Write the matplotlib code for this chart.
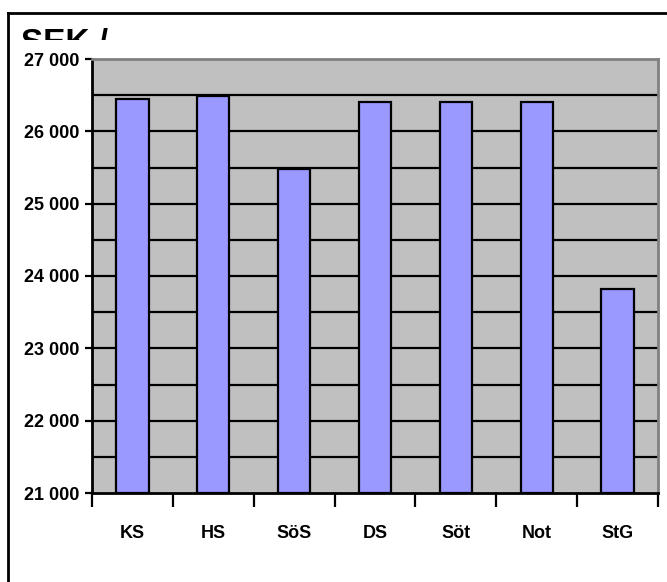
import matplotlib
matplotlib.use("Agg")
import matplotlib.pyplot as plt
from matplotlib.lines import Line2D
from matplotlib.transforms import Bbox, TransformedBbox
import numpy as np

categories = ["KS", "HS", "SöS", "DS", "Söt", "Not", "StG"]
values = [26450, 26490, 25475, 26400, 26400, 26400, 23820]
ytick_vals = [21000, 22000, 23000, 24000, 25000, 26000, 27000]
ytick_labels = ["21 000", "22 000", "23 000", "24 000", "25 000", "26 000", "27 000"]
title_text = "SEK /"

plt.rcParams['font.family'] = ['Liberation Sans', 'DejaVu Sans']
W, H = 667, 582
fig = plt.figure(figsize=(W / 100, H / 100), dpi=100)
fig.patch.set_facecolor("white")

ax = fig.add_axes([92 / W, 1 - 493 / H, (658 - 92) / W, (493 - 59) / H])
ax.set_facecolor("#C0C0C0")

x = np.arange(len(categories))
ax.set_xlim(-0.5, len(categories) - 0.5)
ax.set_ylim(21000, 27000)

# gridlines every 500
for g in np.arange(21500, 27000, 500):
    ax.axhline(g, color="black", lw=1.6, zorder=1)

ax.bar(x, [v - 21000 for v in values], bottom=21000, width=0.4,
       color="#9999FF", edgecolor="black", linewidth=1.6, zorder=2)

ax.set_yticks(ytick_vals)
ax.set_yticklabels(ytick_labels, fontsize=13, fontweight="bold")
ax.tick_params(axis="y", length=5, width=1.6, pad=4, direction="out")

ax.set_xticks(np.arange(-0.5, len(categories), 1.0))
ax.set_xticklabels([])
ax.set_xticks(x, minor=True)
ax.set_xticklabels(categories, minor=True, fontsize=13, fontweight="bold")
ax.tick_params(axis="x", which="major", length=10, width=1.6, direction="out")
ax.tick_params(axis="x", which="minor", length=0, pad=23)

for s in ["left", "bottom"]:
    ax.spines[s].set_color("black")
    ax.spines[s].set_linewidth(2)
for s in ["top", "right"]:
    ax.spines[s].set_color("#808080")
    ax.spines[s].set_linewidth(2)

# outer frame (left and top lines)
fig.add_artist(Line2D([8 / W, 8 / W], [-0.01, 1 - 13 / H], transform=fig.transFigure,
                      color="black", lw=2))
fig.add_artist(Line2D([8 / W, 1.01], [1 - 13 / H, 1 - 13 / H], transform=fig.transFigure,
                      color="black", lw=2))

# clipped title
t = fig.text(21 / W, 1 - 52 / H, title_text, fontsize=24, fontweight="bold",
             ha="left", va="baseline")
clip = TransformedBbox(Bbox([[0, 1 - 40 / H], [1, 1]]), fig.transFigure)
t.set_clip_box(clip)
t.set_clip_on(True)

fig.savefig("out.png", dpi=100)
